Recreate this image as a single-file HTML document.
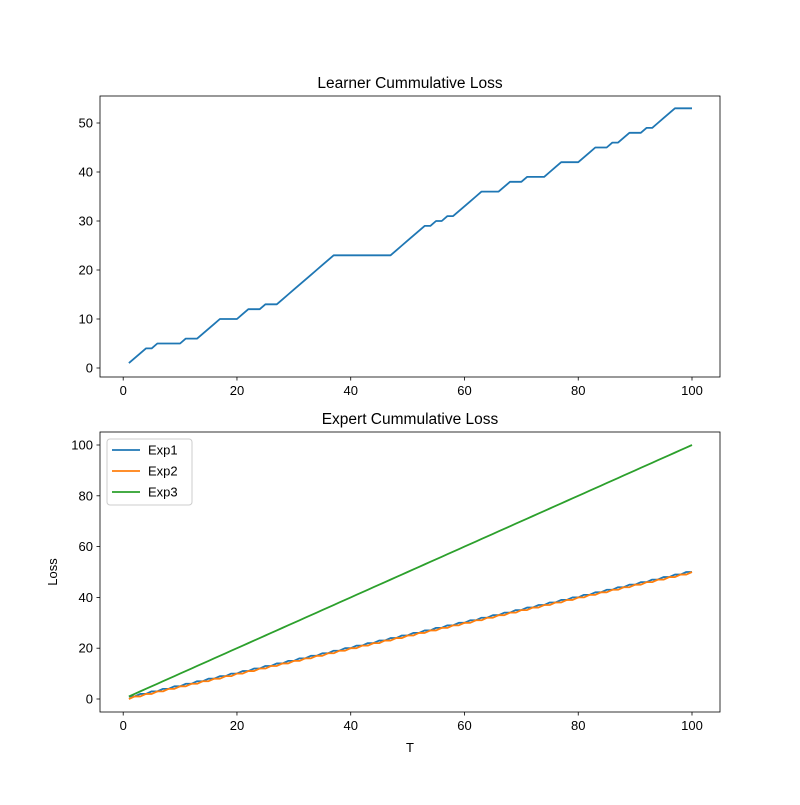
<!DOCTYPE html>
<html><head><meta charset="utf-8"><style>
body{margin:0;background:#fff;}
svg text{font-family:"Liberation Sans","DejaVu Sans",sans-serif;font-size:13px;fill:#000;}
</style></head><body>
<svg id="c" width="800" height="800" xmlns="http://www.w3.org/2000/svg"></svg>
<script>
const learnerLoss=[1,2,3,4,4,5,5,5,5,5,6,6,6,7,8,9,10,10,10,10,11,12,12,12,13,13,13,14,15,16,17,18,19,20,21,22,23,23,23,23,23,23,23,23,23,23,23,24,25,26,27,28,29,29,30,30,31,31,32,33,34,35,36,36,36,36,37,38,38,38,39,39,39,39,40,41,42,42,42,42,43,44,45,45,45,46,46,47,48,48,48,49,49,50,51,52,53,53,53,53];
const exp1=[1,1,2,2,3,3,4,4,5,5,6,6,7,7,8,8,9,9,10,10,11,11,12,12,13,13,14,14,15,15,16,16,17,17,18,18,19,19,20,20,21,21,22,22,23,23,24,24,25,25,26,26,27,27,28,28,29,29,30,30,31,31,32,32,33,33,34,34,35,35,36,36,37,37,38,38,39,39,40,40,41,41,42,42,43,43,44,44,45,45,46,46,47,47,48,48,49,49,50,50];
const exp2=[0,1,1,2,2,3,3,4,4,5,5,6,6,7,7,8,8,9,9,10,10,11,11,12,12,13,13,14,14,15,15,16,16,17,17,18,18,19,19,20,20,21,21,22,22,23,23,24,24,25,25,26,26,27,27,28,28,29,29,30,30,31,31,32,32,33,33,34,34,35,35,36,36,37,37,38,38,39,39,40,40,41,41,42,42,43,43,44,44,45,45,46,46,47,47,48,48,49,49,50];
const exp3=[1,2,3,4,5,6,7,8,9,10,11,12,13,14,15,16,17,18,19,20,21,22,23,24,25,26,27,28,29,30,31,32,33,34,35,36,37,38,39,40,41,42,43,44,45,46,47,48,49,50,51,52,53,54,55,56,57,58,59,60,61,62,63,64,65,66,67,68,69,70,71,72,73,74,75,76,77,78,79,80,81,82,83,84,85,86,87,88,89,90,91,92,93,94,95,96,97,98,99,100];
const xTicks=[0,20,40,60,80,100];
const yTicksTop=[0,10,20,30,40,50];
const yTicksBot=[0,20,40,60,80,100];
const seriesNames=["Exp1","Exp2","Exp3"];
const colors=["#1f77b4","#ff7f0e","#2ca02c"];

const NS="http://www.w3.org/2000/svg";
const svg=document.getElementById('c');
function mk(t,a,p){const e=document.createElementNS(NS,t);for(const k in a)e.setAttribute(k,a[k]);(p||svg).appendChild(e);return e;}
const xS=v=>123.2+v*5.688;
const yTop=v=>368-v*4.9;
const yBot=v=>699-v*2.54;

function axes(name,top,bottom,yS,yTicks,title){
  const g=mk('g',{});
  
  
  const r=mk('rect',{x:100,y:top,width:620,height:bottom-top,fill:'none',stroke:'#000','stroke-width':0.8},g);
  
  
  xTicks.forEach(v=>{
    const x=xS(v);
    mk('line',{x1:x,x2:x,y1:bottom,y2:bottom+3.5,stroke:'#000','stroke-width':0.8},g);
    const t=mk('text',{x:x,y:bottom+18,'text-anchor':'middle'},g);t.textContent=v;
    
    
  });
  yTicks.forEach(v=>{
    const y=yS(v);
    mk('line',{x1:100,x2:96.5,y1:y,y2:y,stroke:'#000','stroke-width':0.8},g);
    const t=mk('text',{x:93,y:y+4.5,'text-anchor':'end'},g);t.textContent=v;
    
    
  });
  const tt=mk('text',{x:410,y:top-8,'text-anchor':'middle','font-size':'15.5'},g);tt.textContent=title;
  tt.style.fontSize='15.5px';
  
  
  return g;
}
function line(arr,yS,color,name,g){
  const d=arr.map((v,i)=>(i?'L':'M')+xS(i+1).toFixed(2)+','+yS(v).toFixed(2)).join('');
  const p=mk('path',{d:d,fill:'none',stroke:color,'stroke-width':1.8,'stroke-linejoin':'round'},g);
  
  
}
const g1=axes('learner-loss-panel',96,377,yTop,yTicksTop,'Learner Cummulative Loss');
line(learnerLoss,yTop,colors[0],'learner-loss-line',g1);

const g2=axes('expert-loss-panel',432,712,yBot,yTicksBot,'Expert Cummulative Loss');
line(exp1,yBot,colors[0],'exp1-line',g2);
line(exp2,yBot,colors[1],'exp2-line',g2);
line(exp3,yBot,colors[2],'exp3-line',g2);

const xl=mk('text',{x:410,y:752,'text-anchor':'middle'});xl.textContent='T';


const yl=mk('text',{x:57,y:572,'text-anchor':'middle',transform:'rotate(-90 57 572)'});yl.textContent='Loss';



const lg=mk('g',{});


mk('rect',{x:107,y:439,width:85,height:66,rx:3,fill:'#fff',stroke:'#ccc','stroke-width':1},lg);
seriesNames.forEach((n,i)=>{
  const y=450+i*21;
  const e=mk('g',{},lg);
  
  
  mk('line',{x1:112,x2:140,y1:y,y2:y,stroke:colors[i],'stroke-width':1.8},e);
  const t=mk('text',{x:148,y:y+4.5},e);t.textContent=n;
});
</script>
</body></html>
